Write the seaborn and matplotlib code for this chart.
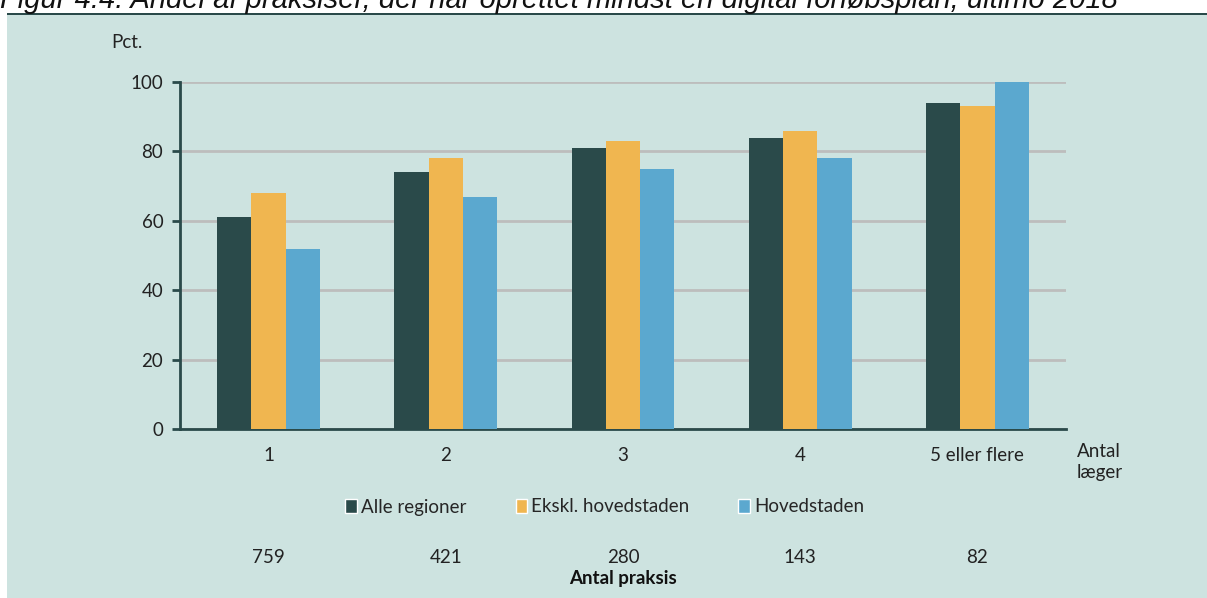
import pandas as pd
import matplotlib.pyplot as plt
import matplotlib.patches as mpatches
import seaborn as sns

categories = ["1", "2", "3", "4", "5 eller flere"]
series_names = ["Alle regioner", "Ekskl. hovedstaden", "Hovedstaden"]
alle = [61, 74, 81, 84, 94]
ekskl = [68, 78, 83, 86, 93]
hoved = [52, 67, 75, 78, 100]
antal_praksis = [759, 421, 280, 143, 82]
y_ticks = [0, 20, 40, 60, 80, 100]

colors = ["#2A4A4A", "#F0B650", "#5BA8CF"]
bg = "#CDE3E0"
dark = "#2A4A4A"
fs = 13.5

df = pd.DataFrame({
    "kategori": categories * 3,
    "serie": [s for s in series_names for _ in categories],
    "pct": alle + ekskl + hoved,
})

sns.set_style("white")
plt.rcParams["font.family"] = ["Lato", "DejaVu Sans"]

fig = plt.figure(figsize=(12.07, 5.98), dpi=100)
fig.patch.set_facecolor("white")

# panel background and rule under the (cut off) title
fig.patches.append(mpatches.Rectangle((7 / 1207, 0), 1 - 7 / 1207, 1 - 15 / 598,
                                      transform=fig.transFigure, facecolor=bg,
                                      edgecolor="none", zorder=-10))
fig.patches.append(mpatches.Rectangle((7 / 1207, 1 - 15 / 598), 1 - 7 / 1207, 2 / 598,
                                      transform=fig.transFigure, facecolor=dark,
                                      edgecolor="none", zorder=-9))
fig.text(0.0, 1 - 8 / 598,
         "Figur 4.4: Andel af praksiser, der har oprettet mindst en digital forløbsplan, ultimo 2018",
         fontsize=21, style="italic", va="baseline", ha="left", color="#111111",
         family=["Liberation Sans", "DejaVu Sans"])

ax = fig.add_axes([180 / 1207, 1 - 429 / 598, (1066 - 180) / 1207, (429 - 82) / 598])
ax.set_facecolor(bg)

sns.barplot(data=df, x="kategori", y="pct", hue="serie", palette=colors,
            width=0.58, gap=0, saturation=1, ax=ax, legend=False, zorder=3,
            linewidth=0)

ax.set_xlim(-0.5, 4.5)
ax.set_ylim(0, 100)
ax.set_yticks(y_ticks)
ax.yaxis.grid(True, color="#BDBDBD", linewidth=2, zorder=0)
ax.set_axisbelow(True)
for s in ["top", "right"]:
    ax.spines[s].set_visible(False)
ax.spines["left"].set_color(dark)
ax.spines["left"].set_linewidth(2)
ax.spines["bottom"].set_color(dark)
ax.spines["bottom"].set_linewidth(2)
ax.tick_params(axis="y", length=6, width=2, color=dark, labelsize=fs,
               labelcolor="#222222", pad=6, left=True)
ax.tick_params(axis="x", length=0, labelsize=fs, labelcolor="#222222", pad=13)
ax.set_xlabel("")
ax.set_ylabel("")

fig.text(111 / 1207, 1 - 42 / 598, "Pct.", fontsize=fs, color="#222222", va="center")
fig.text(1077 / 1207, 1 - 462 / 598, "Antal\nlæger", fontsize=fs, color="#222222",
         va="center", ha="left", linespacing=1.25)

handles = [mpatches.Patch(facecolor=c, label=n) for c, n in zip(colors, series_names)]
fig.legend(handles=handles, loc="center", bbox_to_anchor=(605 / 1207, 1 - 507 / 598),
           ncol=3, frameon=False, fontsize=fs, handlelength=0.6, handleheight=0.8,
           handletextpad=0.25, columnspacing=2.6)

for i, n in enumerate(antal_praksis):
    ax.text(i, -0.37, str(n), transform=ax.get_xaxis_transform(), ha="center",
            va="center", fontsize=fs, color="#222222")
ax.text(2, -0.43, "Antal praksis", transform=ax.get_xaxis_transform(), ha="center",
        va="center", fontsize=fs, fontweight="bold", color="#111111")

fig.savefig("out.png", dpi=100, facecolor=fig.get_facecolor())
